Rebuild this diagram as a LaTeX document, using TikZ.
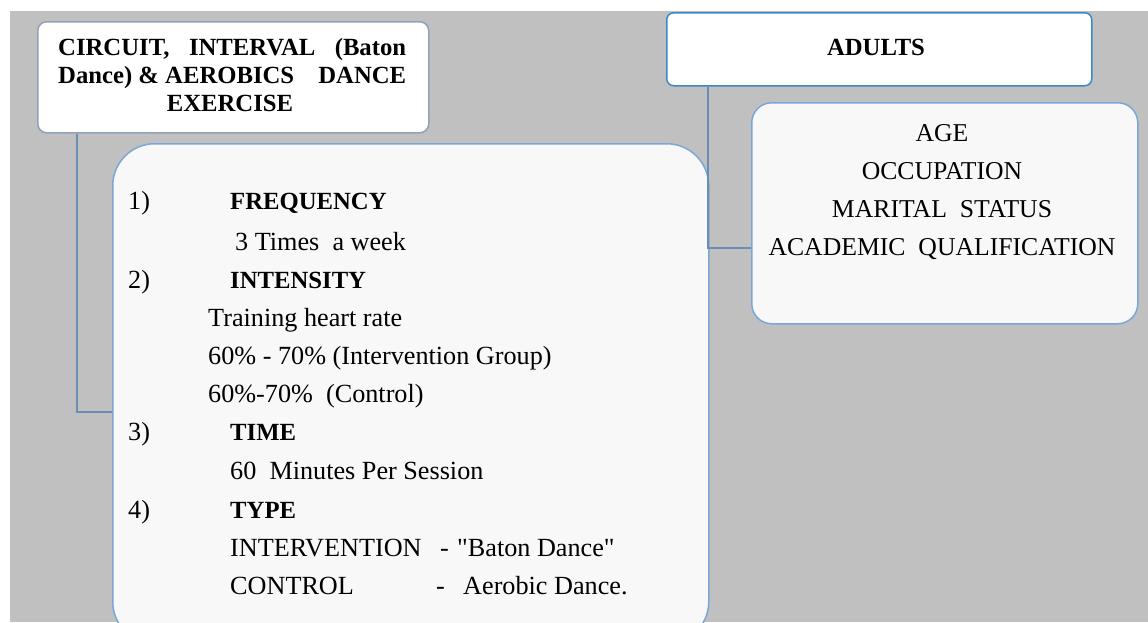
\documentclass[tikz,border=0pt]{standalone}
\usepackage{fontspec}
\setmainfont{Liberation Serif}[Ligatures=TeXOff]
\definecolor{bggrey}{HTML}{C0C0C0}
\definecolor{boxfill}{HTML}{F8F8F8}
\definecolor{lightblue}{HTML}{7BA7D7}
\definecolor{adultblue}{HTML}{3D88C6}
\definecolor{greyblue}{HTML}{8FA2B8}
\definecolor{connblue}{HTML}{6A8DB3}
\begin{document}
\begin{tikzpicture}[x=1pt,y=-1pt,
  txt/.style={anchor=base west,inner sep=0pt,font=\fontsize{26.2}{30}\selectfont},
  ctxt/.style={txt,anchor=base,font=\fontsize{25.7}{30}\selectfont},
  btxt/.style={txt,font=\fontsize{24.7}{30}\selectfont\bfseries},
  cbtxt/.style={btxt,anchor=base},
  boxbase/.style={anchor=north west,inner sep=0pt,line width=1.5pt},
  conn/.style={draw=connblue,line width=1.5pt}]
\useasboundingbox (0,0) rectangle (1148,622);
\clip (0,0) rectangle (1148,622);
\fill[white] (0,0) rectangle (1148,622);
\fill[bggrey] (10,11) rectangle (1148,622);
% boxes
\node[boxbase,draw=greyblue,fill=white,rounded corners=9pt,minimum width=391pt,minimum height=111pt] (tl) at (37,21) {};
\node[boxbase,draw=adultblue,fill=white,rounded corners=7pt,minimum width=425pt,minimum height=73pt] (adults) at (666,12) {};
\node[boxbase,draw=lightblue,fill=boxfill,rounded corners=42pt,minimum width=596pt,minimum height=500pt] (main) at (112,143) {};
\node[boxbase,draw=lightblue,fill=boxfill,rounded corners=20pt,minimum width=386pt,minimum height=221pt] (attr) at (751,102) {};
% connectors
\coordinate (tlturn) at (77,412);
\coordinate (adturn) at (708,248);
\draw[conn] (tl.south -| tlturn) -- (tlturn) -- (main.west |- tlturn);
\draw[conn] (adults.south -| adturn) -- (adturn) -- (attr.west |- adturn);
% header texts
\node[btxt] (tl1) at (58,55) {\hbox to 348pt{CIRCUIT,\hfill INTERVAL\hfill (Baton}};
\node[btxt] (tl2) at (58,83) {\hbox to 348pt{Dance) \& AEROBICS\hfill DANCE}};
\node[cbtxt] (tl3) at (230,111) {EXERCISE};
\node[cbtxt] (ad) at (876,55) {ADULTS};
% attributes
\node[ctxt] (a1) at (942,141) {AGE};
\node[ctxt] (a2) at (942,179) {OCCUPATION};
\node[ctxt] (a3) at (942,217) {MARITAL\ \ STATUS};
\node[ctxt] (a4) at (942,255) {ACADEMIC\ \ QUALIFICATION};
% main list
\node[txt] (n1) at (128,209) {1)};
\node[btxt] (h1) at (230,209) {FREQUENCY};
\node[txt] (t1) at (235,250) {3 Times\ \ a week};
\node[txt] (n2) at (128,288) {2)};
\node[btxt] (h2) at (230,288) {INTENSITY};
\node[txt] (t2a) at (208,326) {Training heart rate};
\node[txt] (t2b) at (208,364) {60\% - 70\% (Intervention Group)};
\node[txt] (t2c) at (208,402) {60\%-70\%\ \ (Control)};
\node[txt] (n3) at (128,440) {3)};
\node[btxt] (h3) at (230,440) {TIME};
\node[txt] (t3) at (230,479) {60\ \ Minutes Per Session};
\node[txt] (n4) at (128,518) {4)};
\node[btxt] (h4) at (230,518) {TYPE};
\node[txt] (t4a) at (230,556) {INTERVENTION};
\node[txt] (t4b) at (440,556) {-};
\node[txt] (t4bb) at (457,556) {"Baton Dance"};
\node[txt] (t4c) at (230,594) {CONTROL};
\node[txt] (t4d) at (436,594) {-};
\node[txt] (t4e) at (463,594) {Aerobic Dance.};
\end{tikzpicture}
\end{document}
